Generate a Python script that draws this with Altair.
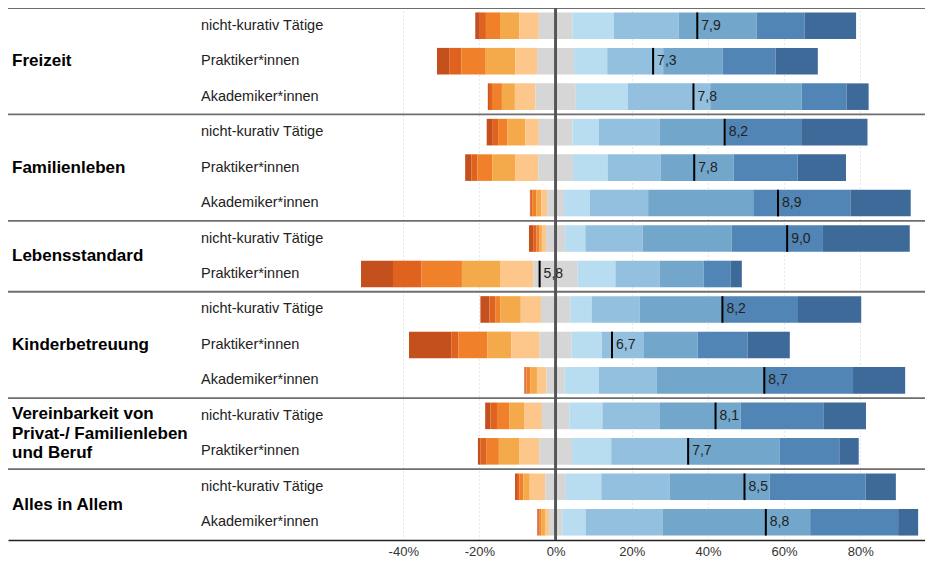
import altair as alt
import pandas as pd

# ---- data ----
row_groups = ["Freizeit"] * 3 + ["Familienleben"] * 3 + ["Lebensstandard"] * 2 + \
             ["Kinderbetreuung"] * 3 + ["Vereinbarkeit von\nPrivat-/ Familienleben\nund Beruf"] * 2 + \
             ["Alles in Allem"] * 2
row_labels = ["nicht-kurativ Tätige", "Praktiker*innen", "Akademiker*innen",
              "nicht-kurativ Tätige", "Praktiker*innen", "Akademiker*innen",
              "nicht-kurativ Tätige", "Praktiker*innen",
              "nicht-kurativ Tätige", "Praktiker*innen", "Akademiker*innen",
              "nicht-kurativ Tätige", "Praktiker*innen",
              "nicht-kurativ Tätige", "Akademiker*innen"]
means = [7.86, 7.28, 7.81, 8.22, 7.82, 8.92, 9.04, 5.79, 8.19, 6.74, 8.74, 8.10, 7.74, 8.48, 8.76]

# shares (%) of each answer category 1..11, one value per row
s1 = [1.2, 3.2, 0.3, 1.6, 1.6, 0.2, 1.1, 8.4, 2.4, 11.1, 0.2, 1.4, 0.7, 0.5, 0.2]
s2 = [1.6, 3.2, 0.8, 1.4, 1.6, 0.4, 0.9, 7.5, 1.6, 1.9, 0.3, 1.7, 1.6, 0.6, 0.3]
s3 = [3.7, 6.4, 2.6, 2.4, 3.9, 1.05, 0.8, 10.6, 1.3, 7.6, 1.1, 3.2, 3.2, 1.05, 0.6]
s4 = [5.1, 7.8, 3.4, 4.7, 6.0, 1.3, 0.6, 10.0, 5.3, 6.3, 1.7, 3.9, 5.3, 1.7, 0.9]
s5 = [5.1, 5.7, 5.4, 3.6, 6.1, 1.6, 1.1, 8.8, 5.3, 7.4, 2.5, 4.7, 5.3, 4.1, 1.05]
s6 = [8.8, 9.7, 10.6, 8.8, 9.1, 4.4, 5.0, 11.6, 7.7, 8.4, 4.8, 7.2, 8.6, 5.4, 3.5]
s7 = [10.9, 8.7, 13.7, 7.0, 9.1, 6.8, 5.3, 9.9, 5.6, 7.9, 8.9, 8.7, 10.3, 9.3, 6.1]
s8 = [17.0, 14.7, 21.6, 15.9, 13.9, 15.3, 15.1, 11.6, 12.6, 11.1, 15.3, 15.1, 20.4, 18.0, 20.2]
s9 = [20.5, 15.6, 24.0, 17.4, 19.2, 27.6, 23.3, 11.6, 21.8, 14.1, 28.3, 21.2, 23.8, 26.2, 38.8]
s10 = [12.6, 13.9, 11.8, 19.8, 16.8, 25.5, 24.0, 7.1, 19.8, 13.1, 23.2, 21.7, 15.7, 25.2, 23.1]
s11 = [13.5, 11.1, 5.8, 17.4, 12.7, 15.85, 22.8, 2.9, 16.6, 11.1, 13.7, 11.2, 5.1, 7.95, 5.25]

categories = [str(k) for k in range(1, 12)]
colors = ["#c4501e", "#e0621f", "#f0812a", "#f4a94a", "#fdc78b", "#d6d6d6",
          "#b9ddf0", "#93c0de", "#72a6cb", "#5185b5", "#3e6a99"]
tick_values = [-40, -20, 0, 20, 40, 60, 80]

# ---- build tables ----
shares = [s1, s2, s3, s4, s5, s6, s7, s8, s9, s10, s11]
seg_rows = []
for i in range(len(row_labels)):
    vals = [s[i] for s in shares]
    start = -(sum(vals[:5]) + vals[5] / 2.0)
    for k, v in enumerate(vals):
        seg_rows.append({"idx": i, "cat": categories[k], "x0": start, "x1": start + v})
        start += v
segs = pd.DataFrame(seg_rows)

rows = pd.DataFrame({"idx": list(range(len(row_labels))), "group": row_groups,
                     "label": row_labels, "mean": means})
grp = rows.groupby("group", sort=False)["idx"].agg(["min", "max"]).reset_index()
grp["center"] = (grp["min"] + grp["max"]) / 2.0
grp["sep"] = grp["min"] - 0.5

W, H = 917, 532
NROWS = len(row_labels)
STEP = H / NROWS
HALF = 13.3 / STEP          # half bar thickness in row units
LINE_H = 19.5               # line height of the group labels (px)
xscale = alt.Scale(domain=[-143.8, 97.0], nice=False, zero=False)
yscale = alt.Scale(domain=[-0.5, NROWS - 0.5], reverse=True, nice=False, zero=False)
FONT = "Liberation Sans"

base_rows = alt.Chart(rows).transform_calculate(
    y0=f"datum.idx - {HALF}", y1=f"datum.idx + {HALF}",
    pos="20 * (datum.mean - 6)",
    txt="replace(format(datum.mean, '.1f'), '.', ',')")

bars = alt.Chart(segs).transform_calculate(
    y0=f"datum.idx - {HALF}", y1=f"datum.idx + {HALF}"
).mark_rect().encode(
    x=alt.X("x0:Q", scale=xscale,
            axis=alt.Axis(values=tick_values, title=None, ticks=False,
                          labelExpr="datum.value + '%'", labelFont=FONT, labelFontSize=13,
                          labelColor="#333333", labelPadding=5,
                          domainColor="#222222", domainWidth=1.5,
                          grid=True, gridColor="#cfcfcf", gridDash=[1, 3], gridWidth=1)),
    x2="x1:Q",
    y=alt.Y("y0:Q", scale=yscale, axis=None),
    y2="y1:Q",
    color=alt.Color("cat:N", scale=alt.Scale(domain=categories, range=colors), legend=None),
)

seps = alt.Chart(grp).mark_rule(color="#6e6e6e", strokeWidth=1.8).encode(
    y=alt.Y("sep:Q", scale=yscale), x=alt.value(0), x2=alt.value(W))

zero = alt.Chart(rows).mark_rule(color="#555555", strokeWidth=1.5).encode(
    x=alt.datum(0), y=alt.value(0), y2=alt.value(H))

ticks = base_rows.mark_rule(color="black", strokeWidth=2).encode(
    x=alt.X("pos:Q", scale=xscale), y=alt.Y("y0:Q", scale=yscale), y2="y1:Q")

mean_txt = base_rows.mark_text(align="left", baseline="middle", dx=4, font=FONT,
                               fontSize=14, color="#222222").encode(
    x=alt.X("pos:Q", scale=xscale), y=alt.Y("idx:Q", scale=yscale), text="txt:N")

sub_txt = alt.Chart(rows).mark_text(align="left", baseline="middle", font=FONT,
                                    fontSize=14.5, color="#222222").encode(
    x=alt.value(193), y=alt.Y("idx:Q", scale=yscale), text="label:N")

grp_txt = alt.Chart(grp).transform_calculate(
    ytop=f"datum.center - (length(split(datum.group, '\\n')) - 1) / 2 * {LINE_H / STEP}"
).mark_text(align="left", baseline="middle", font=FONT,
            fontSize=17, fontWeight="bold", color="black",
            lineBreak="\n", lineHeight=LINE_H).encode(
    x=alt.value(4), y=alt.Y("ytop:Q", scale=yscale), text="group:N")

chart = alt.layer(bars, seps, zero, ticks, mean_txt, sub_txt, grp_txt).properties(
    width=W, height=H, autosize="none",
    padding={"left": 0, "top": 0, "right": 0, "bottom": 17},
    background="white",
).configure_view(stroke=None)

chart.save("out.html", embed_options={"renderer": "svg", "actions": False})
